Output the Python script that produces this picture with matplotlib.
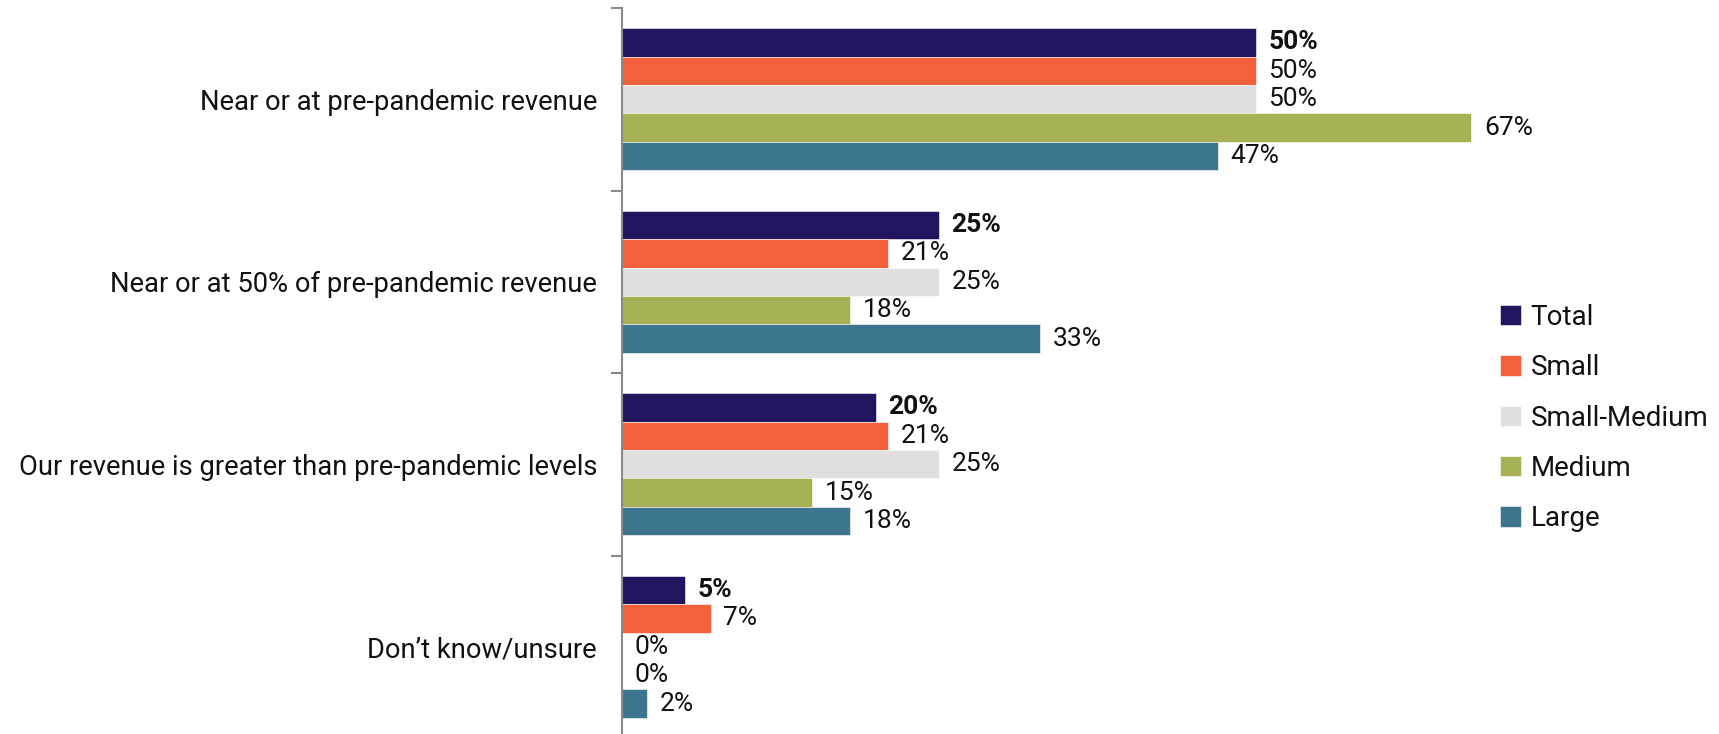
import matplotlib
matplotlib.use("Agg")
import matplotlib.pyplot as plt
import numpy as np

categories = [
    "Near or at pre-pandemic revenue",
    "Near or at 50% of pre-pandemic revenue",
    "Our revenue is greater than pre-pandemic levels",
    "Don\u2019t know/unsure",
]
series_names = ["Total", "Small", "Small-Medium", "Medium", "Large"]
total = [50, 25, 20, 5]
small = [50, 21, 21, 7]
small_medium = [50, 25, 25, 0]
medium = [67, 18, 15, 0]
large = [47, 33, 18, 2]
series_values = [total, small, small_medium, medium, large]
colors = ["#231460", "#F2613C", "#E0DFDE", "#A8B054", "#3C758D"]

plt.rcParams['font.family'] = ['Roboto', 'DejaVu Sans']

fig = plt.figure(figsize=(17.19, 7.34), dpi=100)
ax = fig.add_axes([622 / 1719, -4 / 734, (1636 - 622) / 1719, 730 / 734])

n = len(series_names)
h = 0.156
y = np.arange(len(categories))
for k, (name, vals, c) in enumerate(zip(series_names, series_values, colors)):
    pos = y + (k - (n - 1) / 2) * h
    ax.barh(pos, vals, height=h, color=c, label=name, edgecolor="white", linewidth=0.4)
    for p, v in zip(pos, vals):
        ax.text(v + 1.0, p, f"{v}%", va="center", ha="left", fontsize=19,
                fontweight="bold" if k == 0 else "normal", color="#111111")

ax.set_xlim(0, 80)
ax.set_ylim(len(categories) - 0.5, -0.5)

ax.set_yticks(y)
ax.set_yticklabels(categories, fontsize=19.7, color="#111111")
ax.tick_params(axis="y", which="major", length=0, pad=18)
ax.set_yticks(np.arange(len(categories) + 1) - 0.5, minor=True)
ax.tick_params(axis="y", which="minor", length=8, width=1.5, color="#8a8a8a", direction="out")
ax.set_xticks([])
for s in ["top", "right", "bottom"]:
    ax.spines[s].set_visible(False)
ax.spines["left"].set_color("#8a8a8a")
ax.spines["left"].set_linewidth(1.5)

handles, labels = ax.get_legend_handles_labels()
leg = fig.legend(handles, labels, loc="center left", bbox_to_anchor=(1500 / 1719, 1 - 418 / 734),
                 frameon=False, fontsize=20, handlelength=0.75, handleheight=0.75,
                 handletextpad=0.35, labelspacing=0.84, borderpad=0, borderaxespad=0)
for t in leg.get_texts():
    t.set_color("#111111")

fig.savefig("out.png", dpi=100)
